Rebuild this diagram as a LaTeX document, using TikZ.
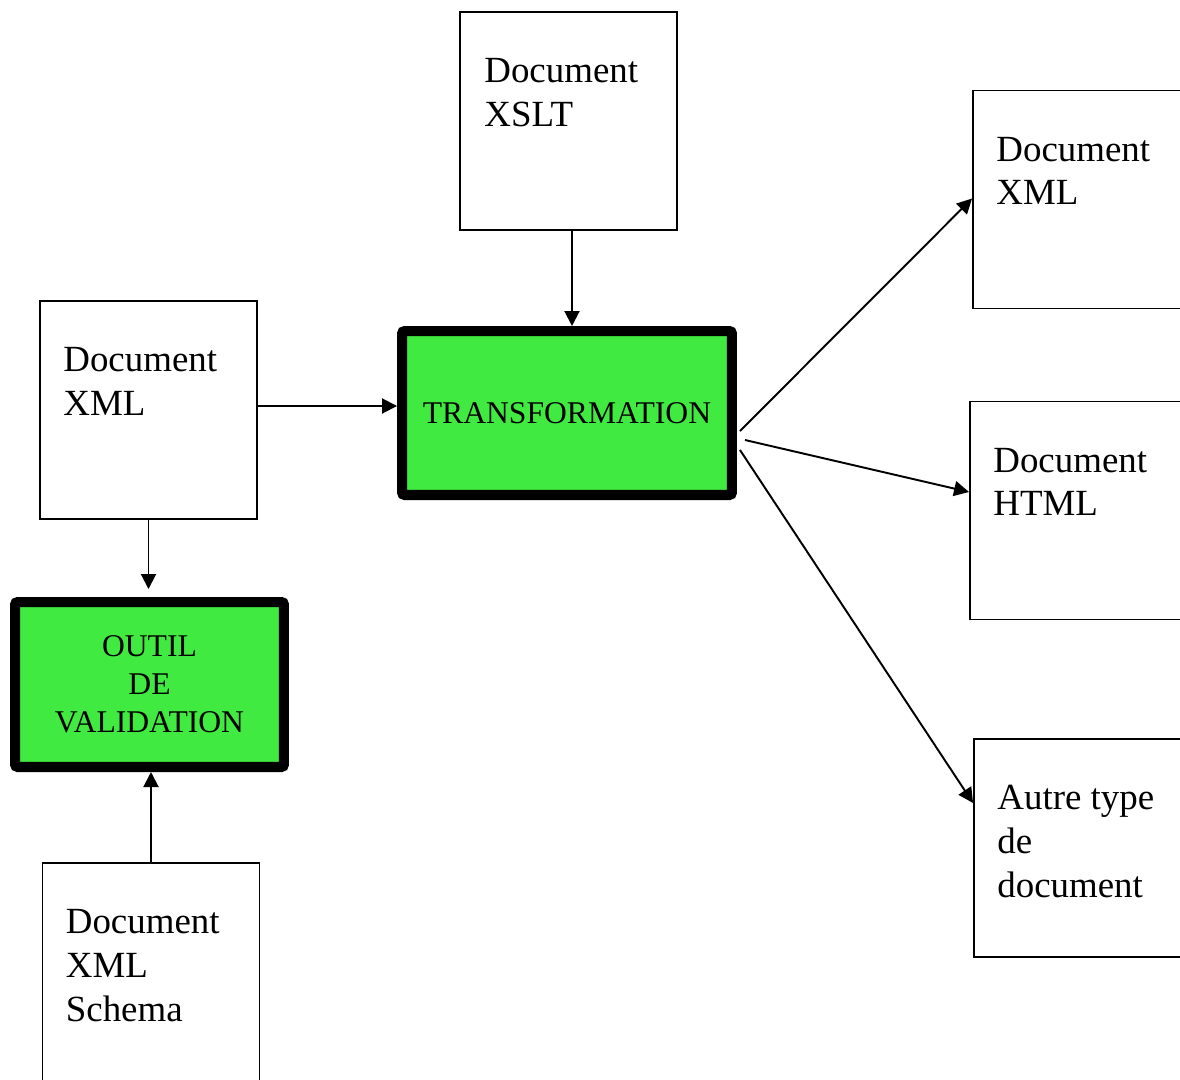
\documentclass[tikz,border=0pt]{standalone}
\usepackage{fontspec}
\setmainfont{Liberation Serif}
\usetikzlibrary{arrows.meta}

\definecolor{toolgreen}{RGB}{64,234,64}

\tikzset{
    docbox/.style={draw, line width=1.1pt, minimum width=4.34cm, minimum height=4.36cm},
    doctext/.style={anchor=north west, align=left, inner sep=0pt, font=\fontsize{21}{25}\selectfont},
    toolbox/.style={draw, fill=toolgreen, line width=5.7pt, rounded corners=1.5pt, align=center,
        font=\fontsize{18}{21.6}\selectfont},
    arr/.style={-{Triangle[length=0.3cm,width=0.3cm]}, line width=1.1pt}
}

\begin{document}
\begin{tikzpicture}[x=0.02cm, y=-0.02cm]
    \useasboundingbox (0,0) rectangle (1180,1079);

    % Draw the two tools
    \node[toolbox, minimum width=6.6cm, minimum height=3.28cm] (transfo) at (567,413) {TRANSFORMATION};
    \node[toolbox, minimum width=5.38cm, minimum height=3.3cm] (valid) at (149.5,684.5) {OUTIL\\DE\\VALIDATION};

    % Draw the document boxes
    \node[docbox] (xslt) at (568.5,121) {};
    \node[docbox] (xmlin) at (148.5,410) {};
    \node[docbox] (schema) at (151,972) {};
    \node[docbox] (xmlout) at (1081.5,199.5) {};
    \node[docbox] (html) at (1078.5,510.5) {};
    \node[docbox] (autre) at (1082.5,848) {};

    % Texts in the document boxes
    \node[doctext] (xslt-text) at ([xshift=0.5cm,yshift=-0.94cm]xslt.north west) {Document\\XSLT};
    \node[doctext] (xmlin-text) at ([xshift=0.48cm,yshift=-0.94cm]xmlin.north west) {Document\\XML};
    \node[doctext] (schema-text) at ([xshift=0.48cm,yshift=-0.94cm]schema.north west) {Document\\XML\\Schema};
    \node[doctext] (xmlout-text) at ([xshift=0.48cm,yshift=-0.94cm]xmlout.north west) {Document\\XML};
    \node[doctext] (html-text) at ([xshift=0.48cm,yshift=-0.94cm]html.north west) {Document\\HTML};
    \node[doctext] (autre-text) at ([xshift=0.48cm,yshift=-0.94cm]autre.north west) {Autre type\\de\\document};

    % Draw the arrows into the tools
    \draw[arr] ([xshift=0.07cm]xslt.south) -- ([xshift=0.07cm]xslt.south |- transfo.north);
    \draw[arr] ([yshift=0.08cm]xmlin.east) -- ([yshift=0.08cm]xmlin.east -| transfo.west);
    \draw[arr] (xmlin.south) -- ([yshift=0.16cm]xmlin.south |- valid.north);
    \draw[arr] (schema.north) -- (schema.north |- valid.south);

    % Draw the arrows out of the transformation
    \draw[arr] ([xshift=0.06cm,yshift=-0.36cm]transfo.east) -- ([yshift=0.02cm]xmlout.west);
    \draw[arr] ([xshift=0.16cm,yshift=-0.54cm]transfo.east) -- ([yshift=0.37cm]html.west);
    \draw[arr] ([xshift=0.06cm,yshift=-0.74cm]transfo.east) -- ([yshift=0.9cm]autre.west);
\end{tikzpicture}
\end{document}
